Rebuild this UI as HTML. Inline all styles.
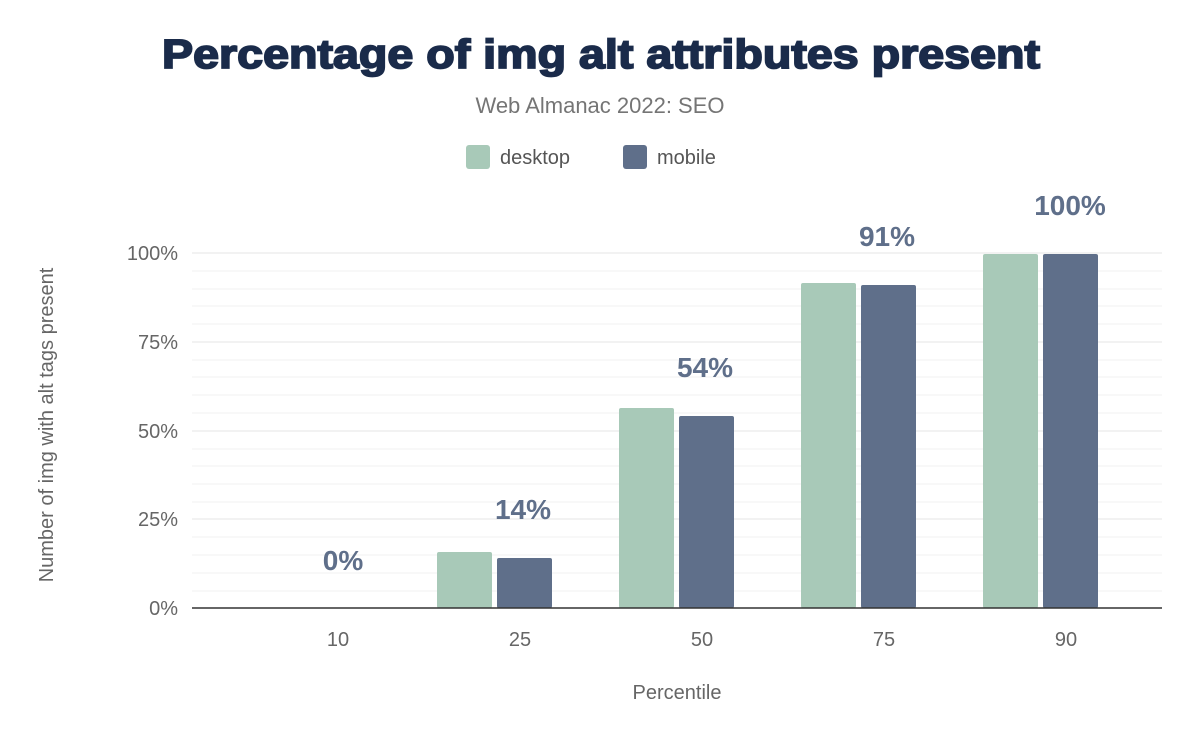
<!DOCTYPE html>
<html><head><meta charset="utf-8"><style>body{margin:0;background:#fff}svg{display:block}</style></head><body>
<svg width="1200" height="742" xmlns="http://www.w3.org/2000/svg" font-family="Liberation Sans, Arial, sans-serif">
<rect width="1200" height="742" fill="#fff"/>
<text x="162" y="68" textLength="878" lengthAdjust="spacingAndGlyphs" font-size="41" font-weight="900" fill="#1a2b4a" stroke="#1a2b4a" stroke-width="1.8">Percentage of img alt attributes present</text>
<text x="600" y="113" text-anchor="middle" font-size="22" fill="#757575">Web Almanac 2022: SEO</text>
<rect x="466" y="145" width="24" height="24" rx="3" fill="#a8c9b8"/>
<text x="500" y="164" font-size="20" fill="#555">desktop</text>
<rect x="623" y="145" width="24" height="24" rx="3" fill="#5f6f8a"/>
<text x="657" y="164" font-size="20" fill="#555">mobile</text>
<g stroke="#f0f0f0" stroke-width="1">
<line x1="192" x2="1162" y1="271" y2="271"/><line x1="192" x2="1162" y1="289" y2="289"/><line x1="192" x2="1162" y1="306" y2="306"/><line x1="192" x2="1162" y1="324" y2="324"/>
<line x1="192" x2="1162" y1="360" y2="360"/><line x1="192" x2="1162" y1="377" y2="377"/><line x1="192" x2="1162" y1="395" y2="395"/><line x1="192" x2="1162" y1="413" y2="413"/>
<line x1="192" x2="1162" y1="449" y2="449"/><line x1="192" x2="1162" y1="466" y2="466"/><line x1="192" x2="1162" y1="484" y2="484"/><line x1="192" x2="1162" y1="502" y2="502"/>
<line x1="192" x2="1162" y1="537" y2="537"/><line x1="192" x2="1162" y1="555" y2="555"/><line x1="192" x2="1162" y1="573" y2="573"/><line x1="192" x2="1162" y1="591" y2="591"/>
</g>
<g stroke="#e4e4e4" stroke-width="1">
<line x1="192" x2="1162" y1="253" y2="253"/><line x1="192" x2="1162" y1="342" y2="342"/><line x1="192" x2="1162" y1="431" y2="431"/><line x1="192" x2="1162" y1="519" y2="519"/>
</g>
<g font-size="20" fill="#666" text-anchor="end">
<text x="178" y="260">100%</text><text x="178" y="349">75%</text><text x="178" y="438">50%</text><text x="178" y="526">25%</text><text x="178" y="615">0%</text>
</g>
<g fill="#a8c9b8">
<rect x="437" y="552" width="55" height="56" rx="2"/><rect x="619" y="408" width="55" height="200" rx="2"/><rect x="801" y="283" width="55" height="325" rx="2"/><rect x="983" y="254" width="55" height="354" rx="2"/>
</g>
<g fill="#5f6f8a">
<rect x="497" y="558" width="55" height="50" rx="2"/><rect x="679" y="416" width="55" height="192" rx="2"/><rect x="861" y="285" width="55" height="323" rx="2"/><rect x="1043" y="254" width="55" height="354" rx="2"/>
</g>
<line x1="192" x2="1162" y1="608" y2="608" stroke="#333" stroke-width="1.5"/>
<g font-size="28" font-weight="bold" fill="#5f6f8a" text-anchor="middle">
<text x="343" y="570">0%</text><text x="523" y="519">14%</text><text x="705" y="377">54%</text><text x="887" y="246">91%</text><text x="1070" y="215">100%</text>
</g>
<g font-size="20" fill="#666" text-anchor="middle">
<text x="338" y="646">10</text><text x="520" y="646">25</text><text x="702" y="646">50</text><text x="884" y="646">75</text><text x="1066" y="646">90</text>
</g>
<text x="677" y="699" text-anchor="middle" font-size="20" fill="#666">Percentile</text>
<text transform="translate(53,425) rotate(-90)" text-anchor="middle" font-size="20" fill="#666">Number of img with alt tags present</text>
</svg>
</body></html>
